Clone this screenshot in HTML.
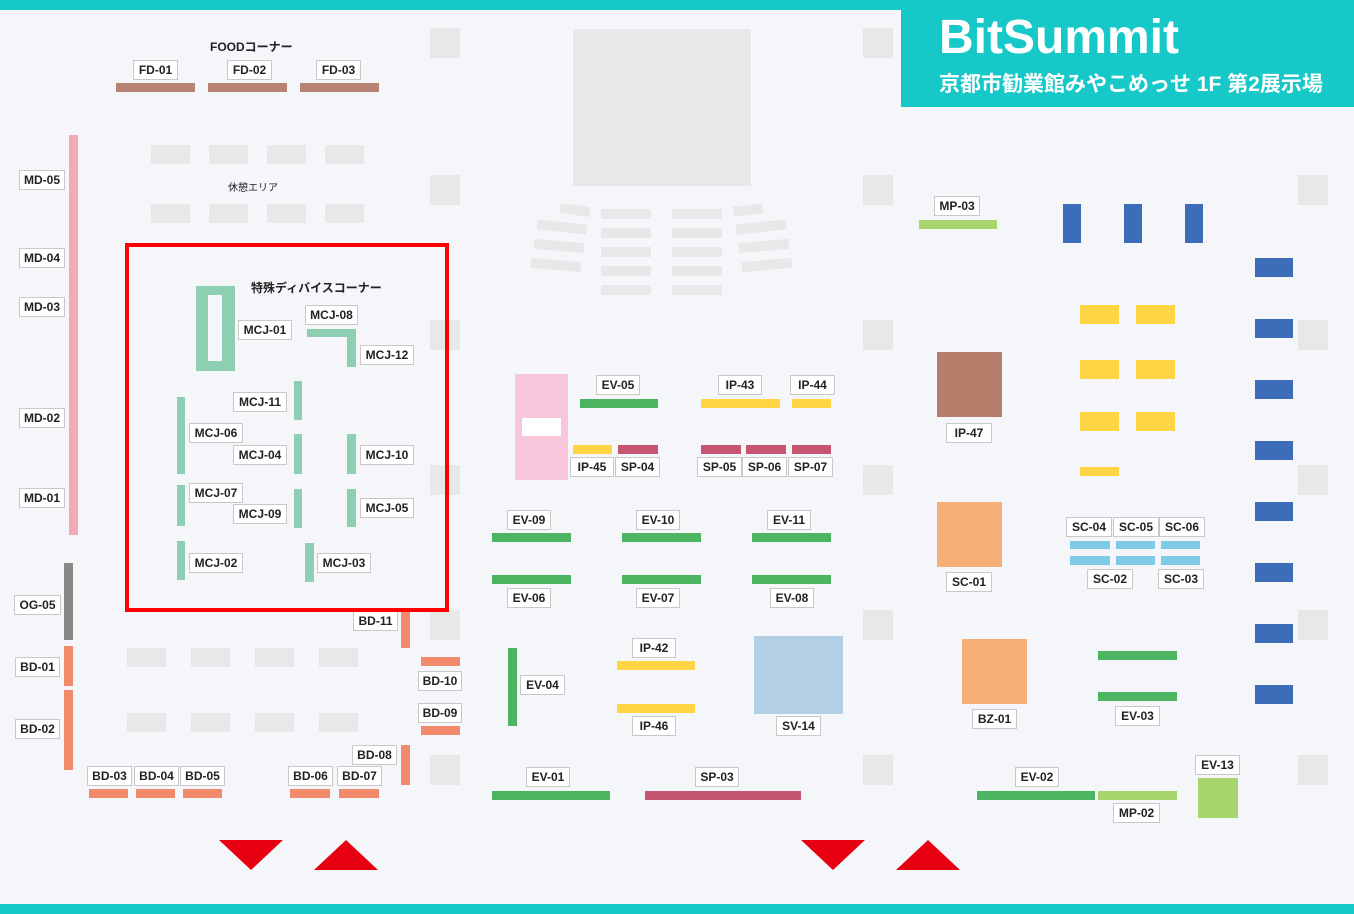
<!DOCTYPE html>
<html><head><meta charset="utf-8"><style>
body{margin:0;width:1354px;height:914px;background:#f5f6fa;position:relative;overflow:hidden;font-family:"Liberation Sans","Noto Sans CJK JP",sans-serif}
div{position:absolute;box-sizing:border-box}
.g{background:#e8e8e8}
.l{background:#fff;border:1px solid #c8c8c8;height:20px;font-size:12px;font-weight:bold;color:#222;text-align:center;line-height:18px;white-space:nowrap}
.t{font-size:12px;font-weight:bold;color:#222;white-space:nowrap}
.gr{background:#4db562}.fd{background:#b98373}.md{background:#f2aab9}.bd{background:#f08a6a}.mc{background:#8ecfb4}
.y{background:#fdd545}.sp{background:#c55672}.bl{background:#3d6db8}.lg{background:#a9d56e}.sc{background:#7ecbe8}
</style></head><body>
<div style="left:0;top:0;width:1354px;height:10px;background:#16c8c8"></div>
<div style="left:0;top:904px;width:1354px;height:10px;background:#16c8c8"></div>
<div style="left:901px;top:10px;width:453px;height:97px;background:#16c8c8;color:#fff">
<div style="left:38px;top:0px;font-size:48px;font-weight:bold;letter-spacing:0px">BitSummit</div>
<div style="left:38px;top:58px;font-size:21px;font-weight:bold;white-space:nowrap">京都市勧業館みやこめっせ 1F 第2展示場</div></div>
<!-- gray blocks -->
<div class="g" style="left:430px;top:28px;width:30px;height:30px"></div>
<div class="g" style="left:430px;top:175px;width:30px;height:30px"></div>
<div class="g" style="left:430px;top:320px;width:30px;height:30px"></div>
<div class="g" style="left:430px;top:465px;width:30px;height:30px"></div>
<div class="g" style="left:430px;top:610px;width:30px;height:30px"></div>
<div class="g" style="left:430px;top:755px;width:30px;height:30px"></div>
<div class="g" style="left:863px;top:28px;width:30px;height:30px"></div>
<div class="g" style="left:863px;top:175px;width:30px;height:30px"></div>
<div class="g" style="left:863px;top:320px;width:30px;height:30px"></div>
<div class="g" style="left:863px;top:465px;width:30px;height:30px"></div>
<div class="g" style="left:863px;top:610px;width:30px;height:30px"></div>
<div class="g" style="left:863px;top:755px;width:30px;height:30px"></div>
<div class="g" style="left:1298px;top:175px;width:30px;height:30px"></div>
<div class="g" style="left:1298px;top:320px;width:30px;height:30px"></div>
<div class="g" style="left:1298px;top:465px;width:30px;height:30px"></div>
<div class="g" style="left:1298px;top:610px;width:30px;height:30px"></div>
<div class="g" style="left:1298px;top:755px;width:30px;height:30px"></div>
<div class="g" style="left:573px;top:29px;width:178px;height:157px"></div>
<div class="g" style="left:601px;top:209px;width:50px;height:10px"></div><div class="g" style="left:672px;top:209px;width:50px;height:10px"></div>
<div class="g" style="left:601px;top:228px;width:50px;height:10px"></div><div class="g" style="left:672px;top:228px;width:50px;height:10px"></div>
<div class="g" style="left:601px;top:247px;width:50px;height:10px"></div><div class="g" style="left:672px;top:247px;width:50px;height:10px"></div>
<div class="g" style="left:601px;top:266px;width:50px;height:10px"></div><div class="g" style="left:672px;top:266px;width:50px;height:10px"></div>
<div class="g" style="left:601px;top:285px;width:50px;height:10px"></div><div class="g" style="left:672px;top:285px;width:50px;height:10px"></div>
<div class="g" style="left:560px;top:205px;width:30px;height:10px;transform:rotate(8deg)"></div>
<div class="g" style="left:537px;top:222px;width:50px;height:10px;transform:rotate(6deg)"></div>
<div class="g" style="left:534px;top:241px;width:50px;height:10px;transform:rotate(5deg)"></div>
<div class="g" style="left:531px;top:260px;width:50px;height:10px;transform:rotate(5deg)"></div>
<div class="g" style="left:733px;top:205px;width:30px;height:10px;transform:rotate(-8deg)"></div>
<div class="g" style="left:736px;top:222px;width:50px;height:10px;transform:rotate(-6deg)"></div>
<div class="g" style="left:739px;top:241px;width:50px;height:10px;transform:rotate(-5deg)"></div>
<div class="g" style="left:742px;top:260px;width:50px;height:10px;transform:rotate(-5deg)"></div>
<div class="g" style="left:151px;top:145px;width:39px;height:19px"></div><div class="g" style="left:209px;top:145px;width:39px;height:19px"></div><div class="g" style="left:267px;top:145px;width:39px;height:19px"></div><div class="g" style="left:325px;top:145px;width:39px;height:19px"></div>
<div class="g" style="left:151px;top:204px;width:39px;height:19px"></div><div class="g" style="left:209px;top:204px;width:39px;height:19px"></div><div class="g" style="left:267px;top:204px;width:39px;height:19px"></div><div class="g" style="left:325px;top:204px;width:39px;height:19px"></div>
<div class="g" style="left:127px;top:648px;width:39px;height:19px"></div><div class="g" style="left:191px;top:648px;width:39px;height:19px"></div><div class="g" style="left:255px;top:648px;width:39px;height:19px"></div><div class="g" style="left:319px;top:648px;width:39px;height:19px"></div>
<div class="g" style="left:127px;top:713px;width:39px;height:19px"></div><div class="g" style="left:191px;top:713px;width:39px;height:19px"></div><div class="g" style="left:255px;top:713px;width:39px;height:19px"></div><div class="g" style="left:319px;top:713px;width:39px;height:19px"></div>
<div style="left:228px;top:179px;font-size:10px;color:#222">休憩エリア</div>
<!-- FOOD -->
<div class="t" style="left:210px;top:38px">FOODコーナー</div>
<div class="fd" style="left:116px;top:83px;width:79px;height:9px"></div><div class="fd" style="left:208px;top:83px;width:79px;height:9px"></div><div class="fd" style="left:300px;top:83px;width:79px;height:9px"></div>
<div class="l" style="left:133px;top:60px;width:45px">FD-01</div><div class="l" style="left:227px;top:60px;width:45px">FD-02</div><div class="l" style="left:316px;top:60px;width:45px">FD-03</div>
<!-- MD -->
<div class="md" style="left:69px;top:135px;width:9px;height:400px"></div>
<div class="l" style="left:19px;top:170px;width:46px">MD-05</div><div class="l" style="left:19px;top:248px;width:46px">MD-04</div><div class="l" style="left:19px;top:297px;width:46px">MD-03</div><div class="l" style="left:19px;top:408px;width:46px">MD-02</div><div class="l" style="left:19px;top:488px;width:46px">MD-01</div>
<div style="left:64px;top:563px;width:9px;height:77px;background:#888"></div><div class="l" style="left:14px;top:595px;width:47px">OG-05</div>
<div class="bd" style="left:64px;top:646px;width:9px;height:40px"></div><div class="bd" style="left:64px;top:690px;width:9px;height:80px"></div>
<div class="l" style="left:15px;top:657px;width:45px">BD-01</div><div class="l" style="left:15px;top:719px;width:45px">BD-02</div>
<div class="bd" style="left:89px;top:789px;width:39px;height:9px"></div><div class="bd" style="left:136px;top:789px;width:39px;height:9px"></div><div class="bd" style="left:183px;top:789px;width:39px;height:9px"></div>
<div class="l" style="left:87px;top:766px;width:45px">BD-03</div><div class="l" style="left:134px;top:766px;width:45px">BD-04</div><div class="l" style="left:180px;top:766px;width:45px">BD-05</div>
<div class="bd" style="left:290px;top:789px;width:40px;height:9px"></div><div class="bd" style="left:339px;top:789px;width:40px;height:9px"></div>
<div class="l" style="left:288px;top:766px;width:45px">BD-06</div><div class="l" style="left:337px;top:766px;width:45px">BD-07</div>
<div class="bd" style="left:401px;top:745px;width:9px;height:40px"></div><div class="l" style="left:352px;top:745px;width:45px">BD-08</div>
<div class="bd" style="left:401px;top:610px;width:9px;height:38px"></div><div class="l" style="left:353px;top:611px;width:45px">BD-11</div>
<div class="bd" style="left:421px;top:657px;width:39px;height:9px"></div><div class="l" style="left:418px;top:671px;width:44px">BD-10</div>
<div class="bd" style="left:421px;top:726px;width:39px;height:9px"></div><div class="l" style="left:418px;top:703px;width:44px">BD-09</div>
<!-- MCJ -->
<div style="left:125px;top:243px;width:324px;height:369px;border:4px solid #f00"></div>
<div class="t" style="left:251px;top:279px">特殊ディバイスコーナー</div>
<div class="mc" style="left:196px;top:286px;width:39px;height:85px"></div><div style="left:208px;top:295px;width:14px;height:66px;background:#f5f6fa"></div>
<div class="mc" style="left:307px;top:329px;width:49px;height:8px"></div><div class="mc" style="left:347px;top:329px;width:9px;height:38px"></div>
<div class="l" style="left:238px;top:320px;width:54px">MCJ-01</div><div class="l" style="left:305px;top:305px;width:53px">MCJ-08</div><div class="l" style="left:360px;top:345px;width:54px">MCJ-12</div>
<div class="mc" style="left:294px;top:381px;width:8px;height:39px"></div><div class="l" style="left:233px;top:392px;width:54px">MCJ-11</div>
<div class="mc" style="left:177px;top:397px;width:8px;height:77px"></div><div class="l" style="left:189px;top:423px;width:54px">MCJ-06</div>
<div class="mc" style="left:177px;top:485px;width:8px;height:41px"></div><div class="l" style="left:189px;top:483px;width:54px">MCJ-07</div>
<div class="mc" style="left:177px;top:541px;width:8px;height:39px"></div><div class="l" style="left:189px;top:553px;width:54px">MCJ-02</div>
<div class="mc" style="left:294px;top:434px;width:8px;height:40px"></div><div class="l" style="left:233px;top:445px;width:54px">MCJ-04</div>
<div class="mc" style="left:294px;top:489px;width:8px;height:39px"></div><div class="l" style="left:233px;top:504px;width:54px">MCJ-09</div>
<div class="mc" style="left:347px;top:434px;width:9px;height:40px"></div><div class="l" style="left:360px;top:445px;width:54px">MCJ-10</div>
<div class="mc" style="left:347px;top:489px;width:9px;height:38px"></div><div class="l" style="left:360px;top:498px;width:54px">MCJ-05</div>
<div class="mc" style="left:305px;top:543px;width:9px;height:39px"></div><div class="l" style="left:317px;top:553px;width:54px">MCJ-03</div>
<!-- middle -->
<div style="left:515px;top:374px;width:53px;height:106px;background:#f7c6da"></div><div style="left:522px;top:418px;width:39px;height:18px;background:#fff"></div>
<div class="l" style="left:596px;top:375px;width:44px">EV-05</div><div class="gr" style="left:580px;top:399px;width:78px;height:9px"></div>
<div class="y" style="left:573px;top:445px;width:39px;height:9px"></div><div class="sp" style="left:618px;top:445px;width:40px;height:9px"></div>
<div class="l" style="left:570px;top:457px;width:44px">IP-45</div><div class="l" style="left:615px;top:457px;width:45px">SP-04</div>
<div class="l" style="left:718px;top:375px;width:44px">IP-43</div><div class="y" style="left:701px;top:399px;width:79px;height:9px"></div>
<div class="l" style="left:790px;top:375px;width:45px">IP-44</div><div class="y" style="left:792px;top:399px;width:39px;height:9px"></div>
<div class="sp" style="left:701px;top:445px;width:40px;height:9px"></div><div class="sp" style="left:746px;top:445px;width:40px;height:9px"></div><div class="sp" style="left:792px;top:445px;width:39px;height:9px"></div>
<div class="l" style="left:697px;top:457px;width:45px">SP-05</div><div class="l" style="left:742px;top:457px;width:45px">SP-06</div><div class="l" style="left:788px;top:457px;width:45px">SP-07</div>
<div class="l" style="left:507px;top:510px;width:44px">EV-09</div><div class="l" style="left:636px;top:510px;width:44px">EV-10</div><div class="l" style="left:767px;top:510px;width:44px">EV-11</div>
<div class="gr" style="left:492px;top:533px;width:79px;height:9px"></div><div class="gr" style="left:622px;top:533px;width:79px;height:9px"></div><div class="gr" style="left:752px;top:533px;width:79px;height:9px"></div>
<div class="gr" style="left:492px;top:575px;width:79px;height:9px"></div><div class="gr" style="left:622px;top:575px;width:79px;height:9px"></div><div class="gr" style="left:752px;top:575px;width:79px;height:9px"></div>
<div class="l" style="left:507px;top:588px;width:44px">EV-06</div><div class="l" style="left:636px;top:588px;width:44px">EV-07</div><div class="l" style="left:770px;top:588px;width:44px">EV-08</div>
<div class="gr" style="left:508px;top:648px;width:9px;height:78px"></div><div class="l" style="left:520px;top:675px;width:45px">EV-04</div>
<div class="l" style="left:632px;top:638px;width:44px">IP-42</div><div class="y" style="left:617px;top:661px;width:78px;height:9px"></div>
<div class="y" style="left:617px;top:704px;width:78px;height:9px"></div><div class="l" style="left:632px;top:716px;width:44px">IP-46</div>
<div style="left:754px;top:636px;width:89px;height:78px;background:#b3cfe6"></div><div class="l" style="left:776px;top:716px;width:45px">SV-14</div>
<div class="l" style="left:526px;top:767px;width:44px">EV-01</div><div class="gr" style="left:492px;top:791px;width:118px;height:9px"></div>
<div class="l" style="left:695px;top:767px;width:44px">SP-03</div><div class="sp" style="left:645px;top:791px;width:156px;height:9px"></div>
<!-- arrows -->
<div style="left:219px;top:840px;width:0;height:0;border-left:32px solid transparent;border-right:32px solid transparent;border-top:30px solid #e60012"></div>
<div style="left:314px;top:840px;width:0;height:0;border-left:32px solid transparent;border-right:32px solid transparent;border-bottom:30px solid #e60012"></div>
<div style="left:801px;top:840px;width:0;height:0;border-left:32px solid transparent;border-right:32px solid transparent;border-top:30px solid #e60012"></div>
<div style="left:896px;top:840px;width:0;height:0;border-left:32px solid transparent;border-right:32px solid transparent;border-bottom:30px solid #e60012"></div>
<!-- right -->
<div class="l" style="left:934px;top:196px;width:46px">MP-03</div><div class="lg" style="left:919px;top:220px;width:78px;height:9px"></div>
<div class="bl" style="left:1063px;top:204px;width:18px;height:39px"></div><div class="bl" style="left:1124px;top:204px;width:18px;height:39px"></div><div class="bl" style="left:1185px;top:204px;width:18px;height:39px"></div>
<div class="bl" style="left:1255px;top:258px;width:38px;height:19px"></div><div class="bl" style="left:1255px;top:319px;width:38px;height:19px"></div><div class="bl" style="left:1255px;top:380px;width:38px;height:19px"></div><div class="bl" style="left:1255px;top:441px;width:38px;height:19px"></div>
<div class="bl" style="left:1255px;top:502px;width:38px;height:19px"></div><div class="bl" style="left:1255px;top:563px;width:38px;height:19px"></div><div class="bl" style="left:1255px;top:624px;width:38px;height:19px"></div><div class="bl" style="left:1255px;top:685px;width:38px;height:19px"></div>
<div class="y" style="left:1080px;top:305px;width:39px;height:19px"></div><div class="y" style="left:1136px;top:305px;width:39px;height:19px"></div>
<div class="y" style="left:1080px;top:360px;width:39px;height:19px"></div><div class="y" style="left:1136px;top:360px;width:39px;height:19px"></div>
<div class="y" style="left:1080px;top:412px;width:39px;height:19px"></div><div class="y" style="left:1136px;top:412px;width:39px;height:19px"></div>
<div class="y" style="left:1080px;top:467px;width:39px;height:9px"></div>
<div style="left:937px;top:352px;width:65px;height:65px;background:#b47e6b"></div><div class="l" style="left:946px;top:423px;width:46px">IP-47</div>
<div style="left:937px;top:502px;width:65px;height:65px;background:#f5b07a"></div><div class="l" style="left:946px;top:572px;width:46px">SC-01</div>
<div class="l" style="left:1066px;top:517px;width:46px">SC-04</div><div class="l" style="left:1113px;top:517px;width:46px">SC-05</div><div class="l" style="left:1159px;top:517px;width:46px">SC-06</div>
<div class="sc" style="left:1070px;top:541px;width:40px;height:8px"></div><div class="sc" style="left:1116px;top:541px;width:39px;height:8px"></div><div class="sc" style="left:1161px;top:541px;width:39px;height:8px"></div>
<div class="sc" style="left:1070px;top:556px;width:40px;height:9px"></div><div class="sc" style="left:1116px;top:556px;width:39px;height:9px"></div><div class="sc" style="left:1161px;top:556px;width:39px;height:9px"></div>
<div class="l" style="left:1087px;top:569px;width:46px">SC-02</div><div class="l" style="left:1158px;top:569px;width:46px">SC-03</div>
<div style="left:962px;top:639px;width:65px;height:65px;background:#f5b07a"></div><div class="l" style="left:972px;top:709px;width:45px">BZ-01</div>
<div class="gr" style="left:1098px;top:651px;width:79px;height:9px"></div><div class="gr" style="left:1098px;top:692px;width:79px;height:9px"></div>
<div class="l" style="left:1115px;top:706px;width:45px">EV-03</div>
<div class="l" style="left:1015px;top:767px;width:44px">EV-02</div><div class="gr" style="left:977px;top:791px;width:118px;height:9px"></div>
<div class="lg" style="left:1098px;top:791px;width:79px;height:9px"></div><div class="l" style="left:1113px;top:803px;width:47px">MP-02</div>
<div class="l" style="left:1195px;top:755px;width:45px">EV-13</div><div class="lg" style="left:1198px;top:778px;width:40px;height:40px"></div>
</body></html>
